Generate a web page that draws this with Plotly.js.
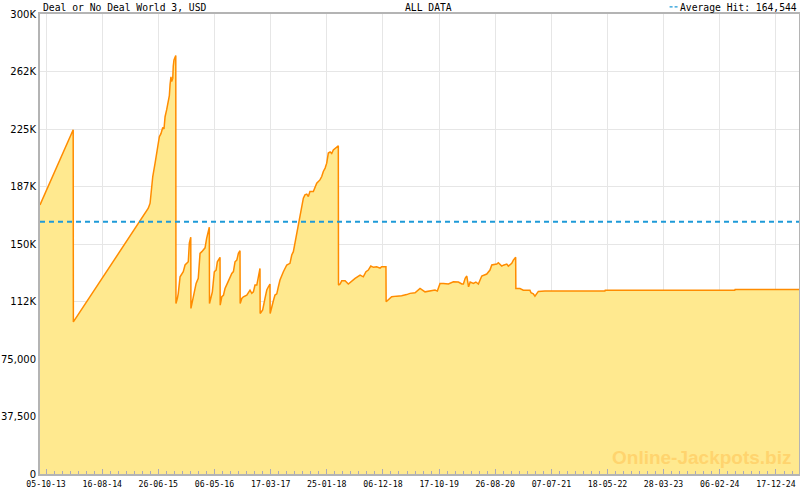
<!DOCTYPE html>
<html>
<head>
<meta charset="utf-8">
<script src="https://cdn.plot.ly/plotly-3.0.1.min.js"></script>
<style>html,body{margin:0;padding:0;background:#fff;}#chart{width:800px;height:490px;}</style>
</head>
<body>
<div id="chart"></div>
<script>
// ---- data ----
const chartTitle = "Deal or No Deal World 3, USD";
const rangeLabel = "ALL DATA";
const avgLabel = "Average Hit: ";
const avgHit = 164544;

const dates = [
  '2013-09-01','2014-03-06','2014-03-07','2015-05-01','2015-05-11','2015-05-26','2015-06-08','2015-06-26',
  '2015-07-02','2015-07-11','2015-07-21','2015-07-28','2015-08-03','2015-08-12','2015-08-21','2015-08-27',
  '2015-08-31','2015-09-05','2015-09-09','2015-09-15','2015-09-18','2015-09-22','2015-10-02','2015-10-03',
  '2015-10-11','2015-10-16','2015-10-26','2015-11-04','2015-11-13','2015-11-23','2015-12-02','2015-12-11',
  '2015-12-17','2015-12-25','2015-12-26',
  '2016-01-05','2016-01-12','2016-01-24','2016-02-05','2016-02-15','2016-02-25','2016-03-04','2016-03-14',
  '2016-03-23','2016-04-02','2016-04-07','2016-04-08',
  '2016-04-15','2016-04-24','2016-05-05','2016-05-15','2016-05-22','2016-05-31','2016-06-06','2016-06-07',
  '2016-06-16','2016-06-25','2016-07-04','2016-07-17','2016-07-28','2016-08-11','2016-08-20','2016-08-29',
  '2016-09-08','2016-09-17','2016-09-26','2016-09-27',
  '2016-10-06','2016-10-15','2016-11-03','2016-11-21','2016-12-01','2016-12-10','2016-12-19','2016-12-29',
  '2017-01-07','2017-01-16','2017-01-17',
  '2017-01-31','2017-02-13','2017-02-23','2017-03-04','2017-03-13','2017-03-14',
  '2017-03-23','2017-04-01','2017-04-10','2017-04-20','2017-04-29','2017-05-08','2017-05-27','2017-06-05',
  '2017-06-15','2017-07-03','2017-07-13','2017-07-22','2017-07-31','2017-08-10','2017-08-19','2017-08-28',
  '2017-09-07','2017-09-16','2017-09-25','2017-10-05','2017-10-14','2017-10-23','2017-11-11','2017-11-30',
  '2017-12-18','2017-12-28','2018-01-06','2018-01-16','2018-01-25','2018-02-03','2018-02-13','2018-02-22',
  '2018-03-03','2018-03-22','2018-03-31','2018-04-01',
  '2018-04-10','2018-04-19','2018-05-08','2018-05-26','2018-06-14','2018-07-03','2018-07-31','2018-08-18',
  '2018-09-02','2018-09-15','2018-09-29','2018-10-14','2018-11-01','2018-11-20','2018-11-29','2018-12-23',
  '2018-12-24',
  '2019-01-05','2019-01-24','2019-02-21','2019-03-21','2019-04-18','2019-05-07','2019-06-04','2019-06-22',
  '2019-07-02','2019-07-30','2019-08-27','2019-09-24','2019-10-07','2019-10-22','2019-11-10','2019-12-08',
  '2020-01-05','2020-02-02','2020-02-21','2020-03-01','2020-03-11','2020-03-20','2020-03-30','2020-04-08',
  '2020-04-26','2020-05-10','2020-05-24','2020-06-12','2020-07-10','2020-07-28','2020-08-07','2020-09-04',
  '2020-09-13','2020-10-02','2020-10-11','2020-10-30','2020-11-08','2020-11-27','2020-12-06','2020-12-19',
  '2020-12-20',
  '2021-01-12','2021-01-31','2021-03-09','2021-03-15','2021-03-28','2021-04-06','2021-04-16','2021-04-25',
  '2021-06-01','2022-05-03','2022-05-05','2024-04-30','2024-05-02','2025-04-25'
];
const values = [
  175500,224500,99200,173300,176600,194000,202700,218000,
  220000,222000,226000,225000,233000,237600,244000,246700,
  254000,259000,256000,258000,266000,270000,272900,111200,
  114500,117800,128600,130000,131900,136300,137500,138400,
  150500,154400,108000,
  114500,117000,124300,127600,143900,145000,146000,147500,
  153700,160300,161000,111200,
  114500,118800,131900,133000,138400,140600,141300,110100,
  115600,116500,121000,124300,127600,130800,132000,138400,
  139500,143900,145600,111200,
  114500,115600,116700,119900,117800,118800,123200,123200,
  128600,134100,104700,
  107000,114500,120000,122100,123900,104700,
  110100,113000,116700,117500,122100,126500,131900,134000,
  136300,137400,142800,145000,150500,157000,161300,169000,
  173300,179900,182000,182500,181000,184200,184200,189700,
  191800,194000,197300,199500,202700,209300,210000,209000,
  211400,213200,214000,123200,
  123900,126000,126000,123900,126000,127600,129700,128600,
  131900,133000,135600,134800,135200,134300,135200,135200,
  112300,
  113700,115600,116000,116200,117000,117800,118200,120400,
  121000,118800,119500,120000,119300,124300,124300,123900,
  125400,125200,123900,123900,127600,129100,122100,125200,
  124300,125200,123900,129100,130400,133000,136300,136900,
  137800,135600,136200,136900,135600,137400,139500,141300,
  121000,
  121000,119900,119900,118200,117500,116000,117800,119100,
  119300,119300,119900,119900,120400,120400
];

const xTickDates = ['2013-10-05','2014-08-16','2015-06-26','2016-05-06','2017-03-17','2018-01-25','2018-12-06',
  '2019-10-17','2020-08-26','2021-07-07','2022-05-18','2023-03-28','2024-02-06','2024-12-17'];
const xTickText = ['05-10-13','16-08-14','26-06-15','06-05-16','17-03-17','25-01-18','06-12-18',
  '17-10-19','26-08-20','07-07-21','18-05-22','28-03-23','06-02-24','17-12-24'];
const yTickVals = [0,37500,75000,112500,150000,187500,225000,262500,300000];
const yTickText = ['0','37,500','75,000','112K','150K','187K','225K','262K','300K'];
const xRange = ['2013-09-01','2025-04-25'];

// ---- minor ticks: 7 sub-intervals between labelled ticks ----
function toMs(d){ return Date.parse(d + 'T00:00:00Z'); }
function fromMs(ms){ return new Date(ms).toISOString().replace('T',' ').replace('Z',''); }
const minorVals = [];
for (let i = 0; i < xTickDates.length - 1; i++) {
  const a = toMs(xTickDates[i]), b = toMs(xTickDates[i+1]);
  for (let k = 1; k < 7; k++) minorVals.push(fromMs(a + (b - a) * k / 7));
}
{
  const n = xTickDates.length;
  const step = (toMs(xTickDates[n-1]) - toMs(xTickDates[0])) / (n - 1) / 7;
  const end = toMs(xRange[1]);
  for (let t = toMs(xTickDates[n-1]) + step; t < end; t += step) minorVals.push(fromMs(t));
}

const avgText = avgHit.toLocaleString('en-US');
const avgColor = '#1e9ad8';

const trace = {
  type: 'scatter', mode: 'lines',
  x: dates, y: values,
  line: {color: '#ff8c00', width: 1.5},
  fill: 'tozeroy', fillcolor: '#ffe98f',
  hoverinfo: 'skip'
};

const axisColor = '#b4b4b4';
const textFont = {family: 'DejaVu Sans Mono', size: 9.7, color: '#000'};
const layout = {
  width: 800, height: 490,
  margin: {l: 40, r: 1, t: 14, b: 16},
  paper_bgcolor: '#ffffff', plot_bgcolor: '#ffffff',
  showlegend: false,
  xaxis: {
    type: 'date', range: xRange,
    tickmode: 'array', tickvals: xTickDates, ticktext: xTickText,
    ticks: 'inside', ticklen: 5, tickwidth: 1, tickcolor: '#a8a8bc',
    minor: {tickmode: 'array', tickvals: minorVals, ticks: 'inside', ticklen: 3, tickwidth: 1, tickcolor: '#a8a8bc', showgrid: false},
    showgrid: true, gridcolor: '#e6e6e6', gridwidth: 1,
    showline: true, linecolor: axisColor, linewidth: 2, mirror: true,
    tickfont: {family: 'DejaVu Sans Mono', size: 8.2, color: '#000'},
    ticklabelstandoff: 1,
    zeroline: false, fixedrange: true
  },
  yaxis: {
    range: [0, 300000],
    tickmode: 'array', tickvals: yTickVals, ticktext: yTickText,
    ticks: '', showgrid: true, gridcolor: '#e6e6e6', gridwidth: 1,
    showline: true, linecolor: axisColor, linewidth: 2, mirror: true,
    tickfont: {family: 'DejaVu Sans', size: 10, color: '#000'},
    zeroline: false, fixedrange: true
  },
  shapes: [
    {type: 'line', xref: 'paper', x0: 0, x1: 1, yref: 'y', y0: avgHit, y1: avgHit,
     line: {color: avgColor, width: 2, dash: '5px,4px'}},
    {type: 'line', xref: 'paper', x0: 0.8295, x1: 0.8400, yref: 'paper', y0: 1.0155, y1: 1.0155,
     line: {color: avgColor, width: 1.2, dash: '3px,2px'}}
  ],
  annotations: [
    {text: chartTitle, xref: 'paper', yref: 'paper', x: 0, y: 1, xanchor: 'left', yanchor: 'bottom',
     showarrow: false, font: textFont, xshift: 1, yshift: -1},
    {text: rangeLabel, xref: 'paper', yref: 'paper', x: 0.512, y: 1, xanchor: 'center', yanchor: 'bottom',
     showarrow: false, font: textFont, yshift: -1},
    {text: avgLabel + avgText, xref: 'paper', yref: 'paper', x: 1, y: 1,
     xanchor: 'right', yanchor: 'bottom', showarrow: false, font: textFont, yshift: -1},
    {text: '<b>Online-Jackpots.biz</b>', xref: 'paper', yref: 'paper', x: 0.992, y: 0, xanchor: 'right', yanchor: 'bottom',
     showarrow: false, font: {family: 'Liberation Sans', size: 19, color: '#ffd46e'}, yshift: 4}
  ]
};

Plotly.newPlot('chart', [trace], layout, {staticPlot: true, displayModeBar: false});
</script>
</body>
</html>
